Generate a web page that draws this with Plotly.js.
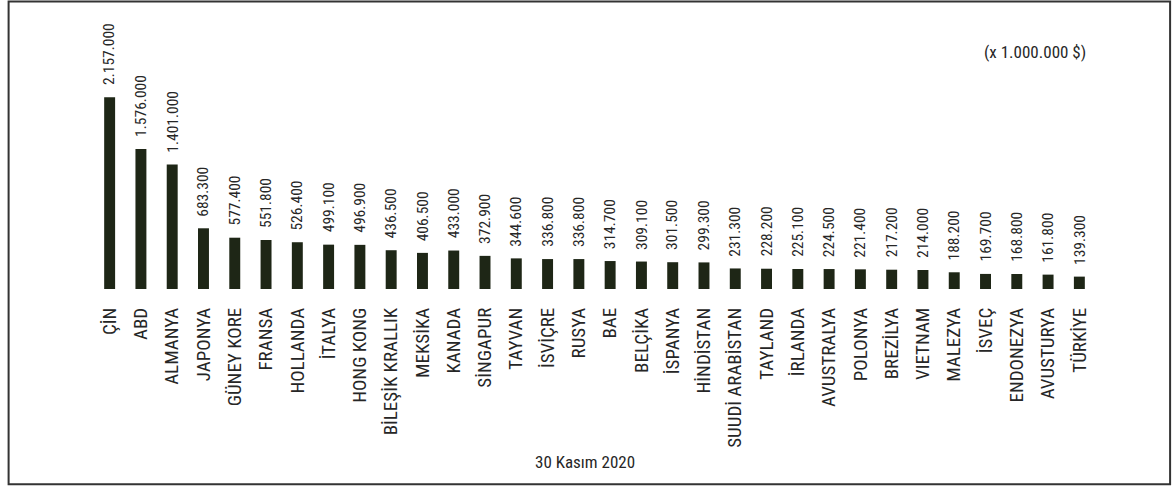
<!DOCTYPE html>
<html>
<head>
<meta charset="utf-8">
<script src="https://cdn.plot.ly/plotly-3.0.1.min.js"></script>
<style>
  html, body { margin: 0; padding: 0; background: #ffffff; }
  #chart { width: 1172px; height: 487px; }
</style>
</head>
<body>
<div id="chart"></div>
<script>
// Countries (category labels)
const countries = [
  "ÇİN", "ABD", "ALMANYA", "JAPONYA", "GÜNEY KORE", "FRANSA", "HOLLANDA", "İTALYA",
  "HONG KONG", "BİLEŞİK KRALLIK", "MEKSİKA", "KANADA", "SİNGAPUR", "TAYVAN", "İSVİÇRE", "RUSYA",
  "BAE", "BELÇİKA", "İSPANYA", "HİNDİSTAN", "SUUDİ ARABİSTAN", "TAYLAND", "İRLANDA", "AVUSTRALYA",
  "POLONYA", "BREZİLYA", "VIETNAM", "MALEZYA", "İSVEÇ", "ENDONEZYA", "AVUSTURYA", "TÜRKİYE"
];
// Values (x 1.000.000 $)
const values = [
  2157000, 1576000, 1401000, 683300, 577400, 551800, 526400, 499100,
  496900, 436500, 406500, 433000, 372900, 344600, 336800, 336800,
  314700, 309100, 301500, 299300, 231300, 228200, 225100, 224500,
  221400, 217200, 214000, 188200, 169700, 168800, 161800, 139300
];
const unitLabel = "(x 1.000.000 $)";
const dateLabel = "30 Kasım 2020";

const FONT = "'Roboto Condensed', 'DejaVu Sans Condensed', sans-serif";
const TEXT_COLOR = "#262626";
const BAR_COLOR = "#1e2616";

function fmtTR(v) {
  return String(Math.round(v)).replace(/\B(?=(\d{3})+(?!\d))/g, ".");
}

const trace = {
  type: "bar",
  x: countries,
  y: values,
  marker: { color: BAR_COLOR, line: { width: 0 } },
  hoverinfo: "x+y"
};

const annotations = countries.map((c, i) => ({
  x: c,
  y: values[i],
  xref: "x",
  yref: "y",
  text: fmtTR(values[i]),
  textangle: -90,
  showarrow: false,
  xanchor: "center",
  yanchor: "bottom",
  yshift: 10,
  font: { family: FONT, size: 15.5, color: TEXT_COLOR }
}));

annotations.push({
  xref: "paper", yref: "paper",
  x: 0.9926, y: 0.85,
  xanchor: "right", yanchor: "middle",
  text: unitLabel, showarrow: false,
  font: { family: FONT, size: 17, color: TEXT_COLOR }
});
annotations.push({
  xref: "paper", yref: "paper",
  x: 0.491, y: -0.621,
  xanchor: "center", yanchor: "middle",
  text: dateLabel, showarrow: false,
  font: { family: FONT, size: 17, color: TEXT_COLOR }
});

const layout = {
  width: 1172,
  height: 487,
  margin: { l: 94.4, r: 76.6, t: 10, b: 197.5, pad: 0, autoexpand: false },
  paper_bgcolor: "#ffffff",
  plot_bgcolor: "#ffffff",
  showlegend: false,
  bargap: 0.65,
  separators: ",.",
  font: { family: FONT, size: 17, color: TEXT_COLOR },
  xaxis: {
    type: "category",
    range: [-0.5, countries.length - 0.5],
    tickangle: -90,
    ticks: "",
    ticklabelstandoff: 14,
    showline: false,
    showgrid: false,
    zeroline: false,
    tickfont: { family: FONT, size: 19, color: TEXT_COLOR },
    fixedrange: true
  },
  yaxis: {
    range: [0, 3140000],
    visible: false,
    showgrid: false,
    zeroline: false,
    fixedrange: true
  },
  annotations: annotations,
  shapes: [{
    type: "rect",
    xref: "paper", yref: "paper",
    x0: (9 - 94.4) / 1001, x1: (1170.5 - 94.4) / 1001,
    y0: (289.5 - 485) / 279.5, y1: (289.5 - 1.5) / 279.5,
    line: { color: "#333333", width: 2 },
    fillcolor: "rgba(0,0,0,0)",
    layer: "above"
  }]
};

Plotly.newPlot("chart", [trace], layout, { displayModeBar: false, staticPlot: true });
</script>
</body>
</html>
